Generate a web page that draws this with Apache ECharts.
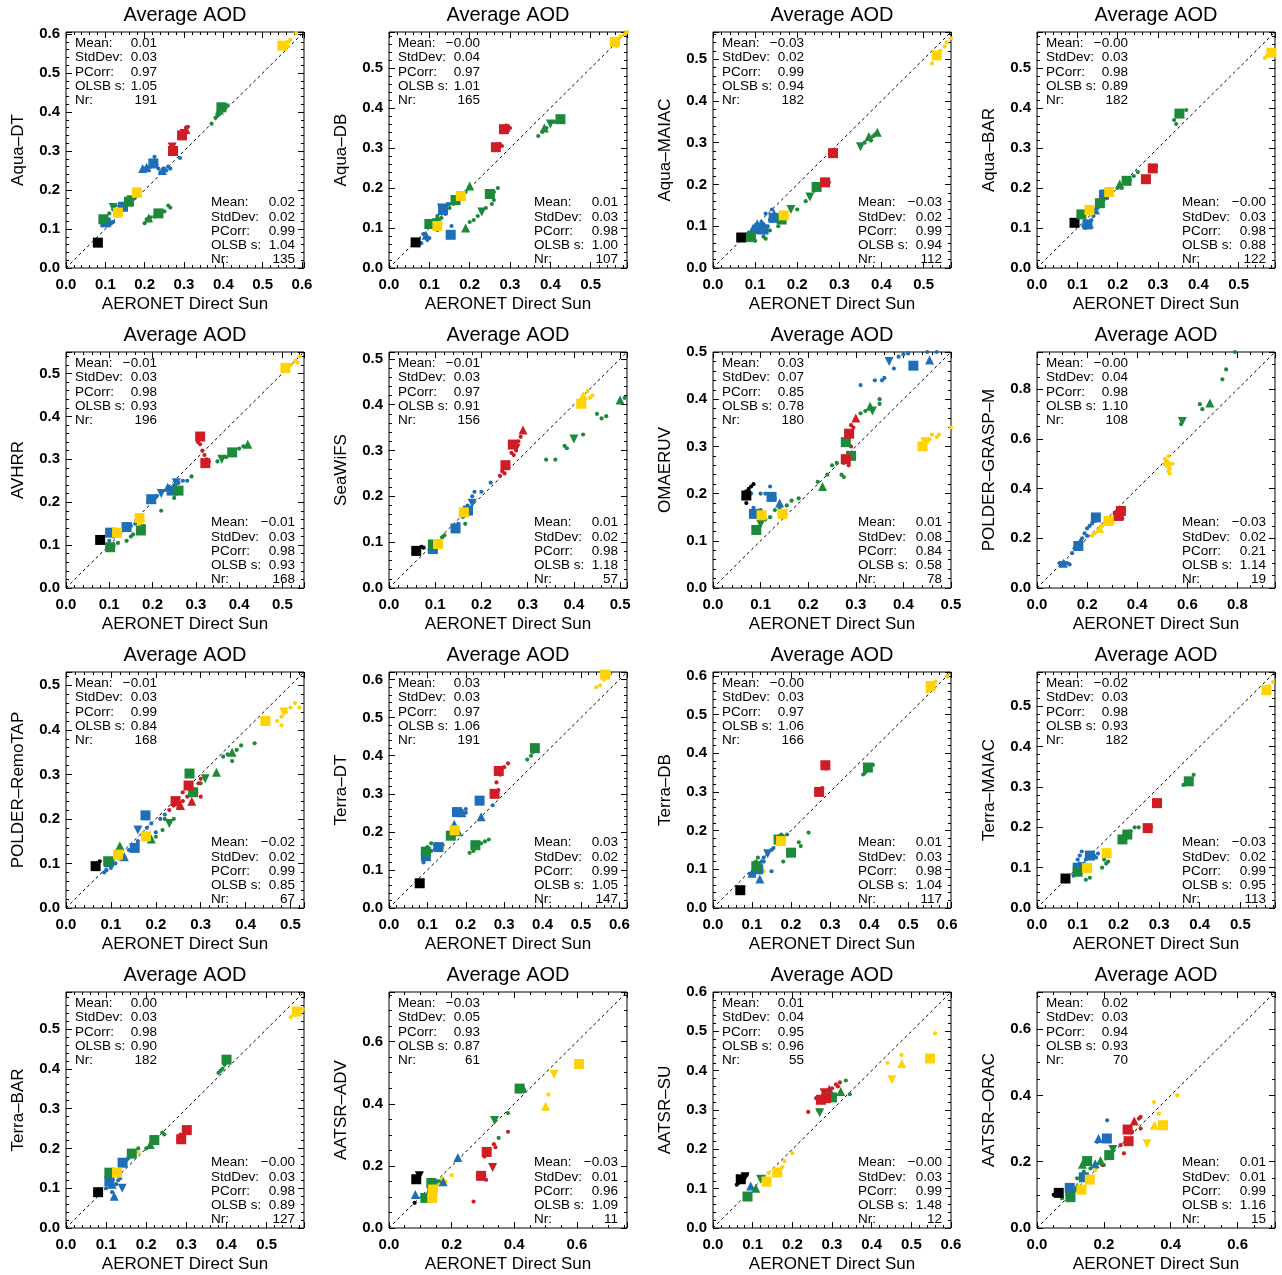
<!DOCTYPE html>
<html><head><meta charset="utf-8">
<script src="https://cdn.jsdelivr.net/npm/echarts@6/dist/echarts.min.js"></script>
<style>html,body{margin:0;padding:0;background:#fff}#c{width:1282px;height:1275px}</style>
</head><body><div id="c"></div>
<script>
// ---------- DATA ----------
const chartTitle = 'Average AOD';
const xTitle = 'AERONET Direct Sun';
const panelNames = ['Aqua–DT','Aqua–DB','Aqua–MAIAC','Aqua–BAR','AVHRR','SeaWiFS','OMAERUV','POLDER–GRASP–M',
  'POLDER–RemoTAP','Terra–DT','Terra–DB','Terra–MAIAC','Terra–BAR','AATSR–ADV','AATSR–SU','AATSR–ORAC'];
const axisMax = [0.605,0.59,0.565,0.59, 0.55,0.515,0.5,0.95, 0.53,0.62,0.61,0.585, 0.593,0.76,0.6,0.712];
const tickStep = [0.1,0.1,0.1,0.1, 0.1,0.1,0.1,0.2, 0.1,0.1,0.1,0.1, 0.1,0.2,0.1,0.2];
const statLabels = ['Mean:','StdDev:','PCorr:','OLSB s:','Nr:'];
const statsTop = [
 ['0.01','0.03','0.97','1.05','191'],['−0.00','0.04','0.97','1.01','165'],['−0.03','0.02','0.99','0.94','182'],['−0.00','0.03','0.98','0.89','182'],
 ['−0.01','0.03','0.98','0.93','196'],['−0.01','0.03','0.97','0.91','156'],['0.03','0.07','0.85','0.78','180'],['−0.00','0.04','0.98','1.10','108'],
 ['−0.01','0.03','0.99','0.84','168'],['0.03','0.03','0.97','1.06','191'],['−0.00','0.03','0.97','1.06','166'],['−0.02','0.03','0.98','0.93','182'],
 ['0.00','0.03','0.98','0.90','182'],['−0.03','0.05','0.93','0.87','61'],['0.01','0.04','0.95','0.96','55'],['0.02','0.03','0.94','0.93','70']];
const statsBottom = [
 ['0.02','0.02','0.99','1.04','135'],['0.01','0.03','0.98','1.00','107'],['−0.03','0.02','0.99','0.94','112'],['−0.00','0.03','0.98','0.88','122'],
 ['−0.01','0.03','0.98','0.93','168'],['0.01','0.02','0.98','1.18','57'],['0.01','0.08','0.84','0.58','78'],['−0.03','0.02','0.21','1.14','19'],
 ['−0.02','0.02','0.99','0.85','67'],['0.03','0.02','0.99','1.05','147'],['0.01','0.03','0.98','1.04','117'],['−0.03','0.02','0.99','0.95','113'],
 ['−0.00','0.03','0.98','0.89','127'],['−0.03','0.01','0.96','1.09','11'],['−0.00','0.03','0.99','1.48','12'],['0.01','0.01','0.99','1.16','15']];

// points: [aeronet, satellite, colour group, symbol group]
const aquaDT = [[0.081,0.065,'k','s'],
 [0.10,0.117,'b','s'],[0.145,0.157,'b','s'],[0.222,0.268,'b','s'],
 [0.095,0.12,'b','o'],[0.105,0.11,'b','o'],[0.11,0.122,'b','o'],[0.115,0.115,'b','o'],[0.1,0.125,'b','o'],[0.12,0.118,'b','o'],[0.21,0.25,'b','o'],[0.23,0.265,'b','o'],[0.225,0.285,'b','o'],[0.24,0.245,'b','o'],[0.25,0.255,'b','o'],[0.26,0.26,'b','o'],[0.255,0.25,'b','o'],[0.29,0.282,'b','o'],[0.215,0.26,'b','o'],[0.2,0.255,'b','o'],[0.235,0.255,'b','o'],[0.265,0.255,'b','o'],
 [0.195,0.255,'b','u'],[0.205,0.258,'b','u'],[0.245,0.25,'b','u'],[0.14,0.15,'b','d'],[0.105,0.118,'b','u'],
 [0.095,0.125,'g','s'],[0.16,0.17,'g','s'],[0.235,0.14,'g','s'],[0.395,0.412,'g','s'],
 [0.12,0.15,'g','o'],[0.125,0.16,'g','o'],[0.11,0.14,'g','o'],[0.15,0.165,'g','o'],[0.175,0.18,'g','o'],[0.2,0.115,'g','o'],[0.205,0.125,'g','o'],[0.215,0.13,'g','o'],[0.225,0.132,'g','o'],[0.25,0.145,'g','o'],[0.26,0.16,'g','o'],[0.265,0.155,'g','o'],[0.37,0.37,'g','o'],[0.38,0.385,'g','o'],[0.385,0.39,'g','o'],[0.4,0.41,'g','o'],[0.405,0.415,'g','o'],[0.39,0.395,'g','o'],[0.395,0.405,'g','o'],
 [0.21,0.128,'g','u'],[0.39,0.405,'g','u'],[0.12,0.155,'g','d'],[0.405,0.41,'g','d'],[0.165,0.175,'g','d'],
 [0.272,0.30,'r','s'],[0.295,0.34,'r','s'],
 [0.28,0.305,'r','o'],[0.275,0.295,'r','o'],[0.3,0.35,'r','o'],[0.305,0.36,'r','o'],[0.31,0.362,'r','o'],[0.29,0.335,'r','o'],
 [0.305,0.355,'r','u'],[0.27,0.31,'r','d'],[0.3,0.345,'r','d'],
 [0.132,0.142,'y','s'],[0.18,0.193,'y','s'],[0.55,0.57,'y','s'],
 [0.555,0.575,'y','o'],[0.565,0.58,'y','o'],[0.545,0.565,'y','o'],[0.585,0.603,'y','o'],[0.57,0.585,'y','o'],
 [0.18,0.195,'y','d'],[0.56,0.575,'y','u']];
const aquaDB = [[0.066,0.064,'k','s'],
 [0.134,0.145,'b','s'],[0.153,0.083,'b','s'],
 [0.09,0.08,'b','o'],[0.095,0.07,'b','o'],[0.085,0.085,'b','o'],[0.1,0.075,'b','o'],[0.08,0.062,'b','o'],[0.14,0.155,'b','o'],[0.145,0.16,'b','o'],[0.15,0.16,'b','o'],[0.12,0.095,'b','o'],[0.125,0.1,'b','o'],[0.155,0.105,'b','o'],
 [0.092,0.082,'b','u'],[0.13,0.15,'b','d'],
 [0.10,0.11,'g','s'],[0.165,0.17,'g','s'],[0.25,0.185,'g','s'],[0.425,0.372,'g','s'],
 [0.11,0.12,'g','o'],[0.12,0.13,'g','o'],[0.13,0.125,'g','o'],[0.14,0.135,'g','o'],[0.15,0.15,'g','o'],[0.16,0.16,'g','o'],[0.18,0.185,'g','o'],[0.19,0.19,'g','o'],[0.2,0.115,'g','o'],[0.21,0.12,'g','o'],[0.22,0.13,'g','o'],[0.24,0.15,'g','o'],[0.255,0.16,'g','o'],[0.26,0.17,'g','o'],[0.26,0.19,'g','o'],[0.27,0.2,'g','o'],[0.37,0.33,'g','o'],[0.38,0.34,'g','o'],[0.39,0.35,'g','o'],[0.41,0.365,'g','o'],
 [0.2,0.205,'g','u'],[0.19,0.1,'g','u'],[0.385,0.35,'g','u'],[0.23,0.14,'g','d'],[0.4,0.36,'g','d'],[0.12,0.125,'g','u'],
 [0.265,0.302,'r','s'],[0.285,0.347,'r','s'],
 [0.275,0.31,'r','o'],[0.28,0.305,'r','o'],[0.295,0.355,'r','o'],[0.3,0.35,'r','o'],[0.29,0.352,'r','u'],
 [0.12,0.105,'y','s'],[0.178,0.18,'y','s'],[0.56,0.565,'y','s'],
 [0.57,0.575,'y','o'],[0.575,0.58,'y','o'],[0.585,0.585,'y','o'],[0.565,0.555,'y','o'],[0.59,0.59,'y','o']];
const aquaMAIAC = [[0.067,0.073,'k','s'],
 [0.11,0.096,'b','s'],[0.144,0.12,'b','s'],[0.12,0.092,'b','s'],
 [0.095,0.09,'b','o'],[0.1,0.1,'b','o'],[0.115,0.11,'b','o'],[0.13,0.1,'b','o'],[0.135,0.115,'b','o'],[0.14,0.14,'b','o'],[0.15,0.125,'b','o'],[0.125,0.13,'b','o'],[0.105,0.085,'b','o'],[0.085,0.085,'b','o'],[0.12,0.105,'b','o'],
 [0.105,0.106,'b','u'],[0.145,0.13,'b','u'],[0.095,0.095,'b','u'],
 [0.09,0.074,'g','s'],[0.163,0.116,'g','s'],[0.246,0.194,'g','s'],
 [0.1,0.065,'g','o'],[0.12,0.075,'g','o'],[0.125,0.07,'g','o'],[0.135,0.09,'g','o'],[0.155,0.1,'g','o'],[0.2,0.14,'g','o'],[0.22,0.16,'g','o'],[0.24,0.185,'g','o'],[0.36,0.3,'g','o'],[0.37,0.31,'g','o'],[0.38,0.315,'g','o'],[0.385,0.32,'g','o'],[0.375,0.305,'g','o'],
 [0.185,0.14,'g','d'],[0.23,0.17,'g','d'],[0.35,0.29,'g','d'],[0.39,0.325,'g','u'],[0.37,0.315,'g','u'],
 [0.285,0.275,'r','s'],[0.266,0.205,'r','s'],
 [0.29,0.28,'r','o'],[0.27,0.21,'r','o'],[0.275,0.205,'r','o'],
 [0.168,0.126,'y','s'],[0.531,0.509,'y','s'],
 [0.54,0.52,'y','o'],[0.55,0.53,'y','o'],[0.555,0.54,'y','o'],[0.52,0.49,'y','o'],[0.565,0.55,'y','o']];
const aquaBAR = [[0.093,0.113,'k','s'],
 [0.125,0.109,'b','s'],[0.166,0.183,'b','s'],
 [0.12,0.1,'b','o'],[0.13,0.105,'b','o'],[0.135,0.12,'b','o'],[0.14,0.13,'b','o'],[0.15,0.15,'b','o'],[0.155,0.16,'b','o'],[0.16,0.17,'b','o'],[0.17,0.18,'b','o'],[0.115,0.105,'b','o'],[0.125,0.115,'b','o'],
 [0.145,0.145,'b','u'],[0.17,0.185,'b','d'],[0.13,0.11,'b','u'],
 [0.11,0.134,'g','s'],[0.156,0.162,'g','s'],[0.222,0.218,'g','s'],[0.353,0.386,'g','s'],
 [0.12,0.14,'g','o'],[0.2,0.2,'g','o'],[0.21,0.2,'g','o'],[0.23,0.22,'g','o'],[0.24,0.23,'g','o'],[0.25,0.24,'g','o'],[0.34,0.37,'g','o'],[0.345,0.36,'g','o'],[0.36,0.39,'g','o'],[0.37,0.395,'g','o'],
 [0.205,0.21,'g','u'],
 [0.27,0.222,'r','s'],[0.287,0.249,'r','s'],
 [0.29,0.25,'r','o'],[0.295,0.255,'r','o'],[0.265,0.22,'r','o'],
 [0.179,0.19,'y','s'],[0.13,0.145,'y','s'],[0.581,0.538,'y','s'],
 [0.565,0.525,'y','o'],[0.57,0.53,'y','o'],[0.585,0.545,'y','o']];
const avhrr = [[0.079,0.112,'k','s'],
 [0.102,0.129,'b','s'],[0.14,0.142,'b','s'],[0.197,0.207,'b','s'],[0.244,0.227,'b','s'],
 [0.1,0.11,'b','o'],[0.105,0.1,'b','o'],[0.11,0.12,'b','o'],[0.15,0.145,'b','o'],[0.16,0.15,'b','o'],[0.19,0.2,'b','o'],[0.2,0.21,'b','o'],[0.21,0.215,'b','o'],[0.25,0.24,'b','o'],[0.26,0.245,'b','o'],[0.27,0.25,'b','o'],[0.28,0.25,'b','o'],
 [0.22,0.22,'b','d'],[0.235,0.235,'b','u'],[0.255,0.245,'b','d'],
 [0.102,0.095,'g','s'],[0.173,0.134,'g','s'],[0.26,0.227,'g','s'],[0.384,0.316,'g','s'],
 [0.11,0.1,'g','o'],[0.12,0.105,'g','o'],[0.14,0.11,'g','o'],[0.15,0.12,'g','o'],[0.155,0.125,'g','o'],[0.18,0.145,'g','o'],[0.22,0.18,'g','o'],[0.25,0.21,'g','o'],[0.255,0.22,'g','o'],[0.29,0.26,'g','o'],[0.35,0.295,'g','o'],[0.37,0.305,'g','o'],[0.4,0.325,'g','o'],[0.41,0.33,'g','o'],
 [0.36,0.3,'g','d'],[0.42,0.335,'g','u'],[0.175,0.14,'g','u'],
 [0.31,0.353,'r','s'],[0.322,0.291,'r','s'],
 [0.31,0.335,'r','o'],[0.315,0.32,'r','o'],[0.32,0.31,'r','o'],[0.325,0.3,'r','o'],[0.33,0.295,'r','o'],[0.305,0.34,'r','o'],
 [0.118,0.129,'y','s'],[0.17,0.163,'y','s'],[0.507,0.513,'y','s'],
 [0.52,0.52,'y','o'],[0.53,0.53,'y','o'],[0.54,0.54,'y','o'],[0.535,0.525,'y','o'],[0.17,0.15,'y','o'],[0.12,0.125,'y','o']];
const seaWiFS = [[0.059,0.081,'k','s'],
 [0.065,0.085,'k','o'],[0.07,0.09,'k','o'],[0.075,0.088,'k','o'],[0.06,0.075,'k','o'],
 [0.095,0.085,'b','s'],[0.144,0.13,'b','s'],[0.171,0.169,'b','s'],
 [0.1,0.09,'b','o'],[0.105,0.095,'b','o'],[0.11,0.1,'b','o'],[0.14,0.135,'b','o'],[0.15,0.14,'b','o'],[0.16,0.155,'b','o'],[0.17,0.18,'b','o'],[0.18,0.2,'b','o'],[0.185,0.21,'b','o'],[0.2,0.21,'b','o'],[0.22,0.23,'b','o'],
 [0.18,0.185,'b','d'],
 [0.095,0.095,'g','s'],
 [0.1,0.1,'g','o'],[0.115,0.11,'g','o'],[0.12,0.115,'g','o'],[0.165,0.14,'g','o'],[0.34,0.28,'g','o'],[0.36,0.28,'g','o'],[0.38,0.31,'g','o'],[0.385,0.305,'g','o'],[0.42,0.335,'g','o'],[0.45,0.38,'g','o'],[0.46,0.37,'g','o'],[0.47,0.375,'g','o'],[0.51,0.415,'g','o'],
 [0.4,0.325,'g','d'],[0.5,0.41,'g','u'],
 [0.252,0.268,'r','s'],[0.268,0.313,'r','s'],
 [0.24,0.245,'r','o'],[0.245,0.255,'r','o'],[0.25,0.25,'r','o'],[0.27,0.29,'r','o'],[0.275,0.3,'r','o'],[0.28,0.32,'r','o'],[0.285,0.33,'r','o'],[0.265,0.295,'r','o'],
 [0.29,0.345,'r','u'],[0.275,0.305,'r','d'],
 [0.106,0.096,'y','s'],[0.162,0.165,'y','s'],[0.416,0.402,'y','s'],
 [0.43,0.43,'y','o'],[0.435,0.415,'y','o'],[0.44,0.42,'y','o'],[0.155,0.16,'y','o'],
 [0.42,0.42,'y','u']];
const omaeruv = [[0.07,0.196,'k','s'],
 [0.065,0.19,'k','o'],[0.07,0.205,'k','o'],[0.075,0.21,'k','o'],[0.08,0.215,'k','o'],[0.085,0.22,'k','o'],[0.07,0.18,'k','o'],
 [0.086,0.157,'b','s'],[0.123,0.193,'b','s'],[0.421,0.471,'b','s'],
 [0.08,0.2,'b','o'],[0.1,0.2,'b','o'],[0.11,0.2,'b','o'],[0.12,0.215,'b','o'],[0.13,0.19,'b','o'],[0.085,0.17,'b','o'],[0.1,0.165,'b','o'],[0.31,0.43,'b','o'],[0.34,0.44,'b','o'],[0.355,0.44,'b','o'],[0.36,0.445,'b','o'],[0.38,0.465,'b','o'],[0.39,0.49,'b','o'],[0.4,0.495,'b','o'],[0.41,0.497,'b','o'],[0.45,0.5,'b','o'],[0.47,0.5,'b','o'],
 [0.14,0.18,'b','u'],[0.37,0.48,'b','d'],[0.455,0.483,'b','u'],
 [0.091,0.123,'g','s'],[0.279,0.309,'g','s'],[0.29,0.28,'g','s'],
 [0.1,0.14,'g','o'],[0.11,0.145,'g','o'],[0.12,0.15,'g','o'],[0.13,0.165,'g','o'],[0.14,0.17,'g','o'],[0.155,0.175,'g','o'],[0.165,0.185,'g','o'],[0.18,0.19,'g','o'],[0.22,0.225,'g','o'],[0.24,0.24,'g','o'],[0.25,0.26,'g','o'],[0.26,0.265,'g','o'],[0.27,0.24,'g','o'],[0.275,0.235,'g','o'],[0.28,0.275,'g','o'],[0.31,0.37,'g','o'],[0.32,0.375,'g','o'],[0.35,0.39,'g','o'],[0.35,0.4,'g','o'],
 [0.23,0.215,'g','u'],[0.33,0.385,'g','u'],[0.335,0.375,'g','d'],[0.1,0.135,'g','d'],
 [0.286,0.327,'r','s'],[0.279,0.273,'r','s'],
 [0.28,0.33,'r','o'],[0.29,0.345,'r','o'],[0.295,0.34,'r','o'],[0.275,0.265,'r','o'],[0.285,0.26,'r','o'],[0.29,0.3,'r','o'],
 [0.3,0.36,'r','u'],
 [0.102,0.154,'y','s'],[0.146,0.157,'y','s'],[0.44,0.30,'y','s'],
 [0.45,0.31,'y','o'],[0.455,0.315,'y','o'],[0.46,0.325,'y','o'],[0.47,0.32,'y','o'],[0.475,0.325,'y','o'],[0.5,0.34,'y','o'],
 [0.445,0.31,'y','d']];
const polderGRASP = [
 [0.235,0.284,'b','s'],[0.165,0.169,'b','s'],
 [0.09,0.1,'b','o'],[0.1,0.1,'b','o'],[0.11,0.1,'b','o'],[0.12,0.1,'b','o'],[0.13,0.095,'b','o'],[0.14,0.14,'b','o'],[0.15,0.16,'b','o'],[0.17,0.18,'b','o'],[0.18,0.2,'b','o'],[0.19,0.22,'b','o'],[0.2,0.24,'b','o'],[0.21,0.25,'b','o'],[0.22,0.26,'b','o'],[0.23,0.27,'b','o'],[0.2,0.21,'b','o'],[0.16,0.175,'b','o'],[0.175,0.19,'b','o'],
 [0.105,0.1,'b','u'],[0.17,0.17,'b','d'],
 [0.575,0.66,'g','o'],[0.65,0.74,'g','o'],[0.66,0.72,'g','o'],[0.74,0.84,'g','o'],[0.755,0.88,'g','o'],[0.79,0.95,'g','o'],
 [0.58,0.67,'g','d'],[0.69,0.745,'g','u'],
 [0.31,0.3,'r','o'],[0.32,0.31,'r','o'],[0.33,0.32,'r','o'],[0.34,0.31,'r','o'],[0.335,0.295,'r','o'],[0.315,0.28,'r','o'],[0.34,0.28,'r','o'],
 [0.33,0.3,'r','u'],[0.32,0.29,'r','d'],[0.325,0.29,'r','s'],[0.335,0.31,'r','s'],
 [0.22,0.21,'y','o'],[0.23,0.22,'y','o'],[0.25,0.23,'y','o'],[0.26,0.25,'y','o'],[0.27,0.26,'y','o'],[0.28,0.28,'y','o'],[0.29,0.28,'y','o'],[0.3,0.265,'y','o'],
 [0.51,0.5,'y','o'],[0.52,0.49,'y','o'],[0.53,0.48,'y','o'],[0.52,0.51,'y','o'],[0.525,0.53,'y','o'],[0.53,0.46,'y','o'],[0.54,0.5,'y','o'],[0.51,0.52,'y','o'],[0.525,0.47,'y','o'],
 [0.25,0.24,'y','u'],[0.525,0.49,'y','d'],
 [0.285,0.27,'y','s']];
const polderRemoTAP = [[0.066,0.094,'k','s'],
 [0.07,0.1,'k','o'],[0.075,0.105,'k','o'],[0.065,0.09,'k','o'],
 [0.096,0.103,'b','s'],[0.153,0.135,'b','s'],[0.177,0.208,'b','s'],
 [0.085,0.08,'b','o'],[0.09,0.085,'b','o'],[0.1,0.09,'b','o'],[0.11,0.1,'b','o'],[0.12,0.11,'b','o'],[0.14,0.13,'b','o'],[0.15,0.14,'b','o'],[0.16,0.15,'b','o'],[0.17,0.165,'b','o'],[0.18,0.18,'b','o'],[0.19,0.19,'b','o'],[0.2,0.17,'b','o'],[0.21,0.2,'b','o'],[0.22,0.21,'b','o'],
 [0.16,0.175,'b','d'],[0.13,0.115,'b','u'],
 [0.094,0.105,'g','s'],[0.275,0.302,'g','s'],[0.283,0.26,'g','s'],
 [0.11,0.12,'g','o'],[0.115,0.13,'g','o'],[0.2,0.16,'g','o'],[0.215,0.175,'g','o'],[0.24,0.2,'g','o'],[0.22,0.2,'g','o'],[0.25,0.24,'g','o'],[0.35,0.34,'g','o'],[0.36,0.345,'g','o'],[0.38,0.355,'g','o'],[0.39,0.365,'g','o'],[0.42,0.37,'g','o'],[0.37,0.33,'g','o'],[0.3,0.28,'g','o'],
 [0.12,0.14,'g','u'],[0.23,0.19,'g','d'],[0.31,0.29,'g','d'],[0.335,0.305,'g','u'],[0.37,0.35,'g','u'],[0.19,0.155,'g','u'],
 [0.244,0.24,'r','s'],[0.273,0.275,'r','s'],
 [0.23,0.22,'r','o'],[0.24,0.23,'r','o'],[0.25,0.225,'r','o'],[0.26,0.24,'r','o'],[0.27,0.25,'r','o'],[0.29,0.26,'r','o'],[0.295,0.28,'r','o'],[0.3,0.25,'r','o'],[0.3,0.29,'r','o'],[0.26,0.26,'r','o'],
 [0.28,0.24,'r','u'],[0.255,0.23,'r','u'],
 [0.116,0.12,'y','s'],[0.178,0.161,'y','s'],[0.444,0.42,'y','s'],
 [0.47,0.42,'y','o'],[0.48,0.43,'y','o'],[0.49,0.44,'y','o'],[0.5,0.45,'y','o'],[0.51,0.46,'y','o'],[0.52,0.45,'y','o'],[0.48,0.41,'y','o'],[0.12,0.11,'y','o'],
 [0.485,0.44,'y','d']];
const terraDT = [[0.08,0.065,'k','s'],
 [0.096,0.136,'b','s'],[0.129,0.16,'b','s'],[0.177,0.252,'b','s'],[0.236,0.282,'b','s'],
 [0.09,0.12,'b','o'],[0.1,0.14,'b','o'],[0.11,0.15,'b','o'],[0.12,0.155,'b','o'],[0.14,0.165,'b','o'],[0.18,0.25,'b','o'],[0.19,0.255,'b','o'],[0.2,0.26,'b','o'],[0.2,0.25,'b','o'],[0.27,0.27,'b','o'],[0.28,0.3,'b','o'],
 [0.17,0.22,'b','u'],[0.24,0.24,'b','u'],[0.19,0.25,'b','u'],
 [0.096,0.148,'g','s'],[0.161,0.19,'g','s'],[0.225,0.165,'g','s'],[0.38,0.42,'g','s'],
 [0.1,0.16,'g','o'],[0.11,0.17,'g','o'],[0.12,0.165,'g','o'],[0.21,0.145,'g','o'],[0.22,0.15,'g','o'],[0.23,0.16,'g','o'],[0.24,0.17,'g','o'],[0.25,0.175,'g','o'],[0.26,0.18,'g','o'],[0.36,0.39,'g','o'],[0.37,0.4,'g','o'],[0.375,0.41,'g','o'],[0.385,0.425,'g','o'],
 [0.18,0.2,'g','u'],
 [0.286,0.36,'r','s'],[0.275,0.30,'r','s'],
 [0.3,0.37,'r','o'],[0.31,0.38,'r','o'],[0.29,0.35,'r','o'],[0.28,0.33,'r','o'],[0.285,0.31,'r','o'],
 [0.171,0.204,'y','s'],[0.563,0.613,'y','s'],
 [0.54,0.58,'y','o'],[0.55,0.585,'y','o'],[0.56,0.6,'y','o'],[0.57,0.61,'y','o'],[0.575,0.615,'y','o'],[0.14,0.16,'y','o']];
const terraDB = [[0.07,0.046,'k','s'],
 [0.116,0.1,'b','s'],
 [0.1,0.09,'b','o'],[0.105,0.085,'b','o'],[0.11,0.095,'b','o'],[0.12,0.11,'b','o'],[0.125,0.12,'b','o'],[0.13,0.13,'b','o'],[0.14,0.14,'b','o'],[0.15,0.15,'b','o'],[0.155,0.155,'b','o'],[0.13,0.12,'b','o'],[0.15,0.095,'b','o'],[0.095,0.088,'b','o'],
 [0.12,0.075,'b','u'],[0.14,0.14,'b','d'],[0.1,0.09,'b','u'],
 [0.111,0.108,'g','s'],[0.168,0.177,'g','s'],[0.2,0.143,'g','s'],[0.397,0.363,'g','s'],
 [0.11,0.12,'g','o'],[0.115,0.13,'g','o'],[0.17,0.185,'g','o'],[0.175,0.19,'g','o'],[0.18,0.185,'g','o'],[0.19,0.19,'g','o'],[0.18,0.12,'g','o'],[0.22,0.17,'g','o'],[0.225,0.16,'g','o'],[0.245,0.195,'g','o'],[0.385,0.345,'g','o'],[0.39,0.35,'g','o'],[0.41,0.37,'g','o'],[0.4,0.36,'g','o'],
 [0.288,0.369,'r','s'],[0.272,0.3,'r','s'],
 [0.28,0.31,'r','o'],[0.29,0.36,'r','o'],
 [0.174,0.173,'y','s'],[0.558,0.574,'y','s'],
 [0.55,0.56,'y','o'],[0.56,0.58,'y','o'],[0.57,0.585,'y','o'],[0.6,0.6,'y','o'],[0.125,0.1,'y','o'],[0.13,0.095,'y','o']];
const terraMAIAC = [[0.07,0.073,'k','s'],
 [0.1,0.1,'b','s'],[0.13,0.13,'b','s'],
 [0.09,0.08,'b','o'],[0.1,0.12,'b','o'],[0.105,0.13,'b','o'],[0.11,0.14,'b','o'],[0.12,0.12,'b','o'],[0.125,0.13,'b','o'],[0.13,0.125,'b','o'],[0.14,0.13,'b','o'],[0.15,0.135,'b','o'],[0.115,0.11,'b','o'],[0.11,0.09,'b','o'],[0.105,0.11,'b','o'],[0.145,0.125,'b','o'],
 [0.1,0.09,'g','s'],[0.222,0.182,'g','s'],[0.21,0.17,'g','s'],[0.373,0.314,'g','s'],
 [0.12,0.07,'g','o'],[0.13,0.075,'g','o'],[0.16,0.1,'g','o'],[0.17,0.11,'g','o'],[0.175,0.115,'g','o'],[0.165,0.12,'g','o'],[0.23,0.19,'g','o'],[0.24,0.2,'g','o'],[0.25,0.2,'g','o'],[0.36,0.305,'g','o'],[0.37,0.31,'g','o'],[0.38,0.32,'g','o'],[0.385,0.33,'g','o'],
 [0.295,0.26,'r','s'],[0.272,0.198,'r','s'],
 [0.28,0.2,'r','o'],
 [0.171,0.136,'y','s'],[0.123,0.099,'y','s'],[0.564,0.54,'y','s'],
 [0.57,0.55,'y','o'],[0.58,0.56,'y','o']];
const terraBAR = [[0.08,0.09,'k','s'],
 [0.108,0.118,'b','s'],[0.141,0.164,'b','s'],
 [0.1,0.1,'b','o'],[0.11,0.105,'b','o'],[0.115,0.09,'b','o'],[0.125,0.11,'b','o'],[0.13,0.12,'b','o'],[0.135,0.125,'b','o'],[0.15,0.17,'b','o'],[0.155,0.175,'b','o'],[0.16,0.18,'b','o'],
 [0.12,0.08,'b','u'],[0.14,0.1,'b','d'],[0.115,0.11,'b','u'],
 [0.108,0.139,'g','s'],[0.164,0.187,'g','s'],[0.22,0.221,'g','s'],[0.4,0.423,'g','s'],
 [0.17,0.19,'g','o'],[0.18,0.2,'g','o'],[0.2,0.2,'g','o'],[0.22,0.215,'g','o'],[0.24,0.24,'g','o'],[0.245,0.235,'g','o'],[0.38,0.39,'g','o'],[0.385,0.395,'g','o'],[0.39,0.4,'g','o'],[0.395,0.41,'g','o'],
 [0.21,0.21,'g','u'],
 [0.287,0.223,'r','s'],[0.301,0.246,'r','s'],
 [0.28,0.22,'r','o'],[0.29,0.23,'r','o'],[0.295,0.24,'r','o'],[0.305,0.25,'r','o'],[0.285,0.235,'r','o'],
 [0.127,0.139,'y','s'],[0.575,0.544,'y','s'],
 [0.56,0.53,'y','o'],[0.57,0.535,'y','o'],[0.58,0.54,'y','o'],[0.59,0.55,'y','o'],[0.18,0.19,'y','o']];
const aatsrADV = [[0.087,0.157,'k','s'],[0.082,0.081,'k','o'],[0.097,0.168,'k','d'],
 [0.138,0.14,'b','s'],
 [0.084,0.108,'b','u'],[0.22,0.227,'b','u'],[0.173,0.149,'b','u'],
 [0.116,0.097,'g','s'],[0.135,0.145,'g','s'],[0.417,0.449,'g','s'],
 [0.12,0.09,'g','o'],[0.13,0.13,'g','o'],[0.14,0.15,'g','o'],[0.15,0.145,'g','o'],[0.16,0.15,'g','o'],[0.35,0.29,'g','o'],[0.38,0.37,'g','o'],
 [0.428,0.451,'g','u'],[0.13,0.12,'g','u'],[0.337,0.346,'g','d'],
 [0.312,0.245,'r','s'],[0.294,0.168,'r','s'],
 [0.305,0.23,'r','o'],[0.3,0.16,'r','o'],[0.31,0.155,'r','o'],[0.335,0.27,'r','o'],[0.34,0.26,'r','o'],[0.38,0.31,'r','o'],[0.27,0.085,'r','o'],
 [0.331,0.195,'r','d'],
 [0.138,0.097,'y','s'],[0.14,0.124,'y','s'],[0.607,0.528,'y','s'],
 [0.509,0.43,'y','o'],[0.2,0.17,'y','o'],[0.18,0.15,'y','o'],[0.16,0.14,'y','o'],[0.17,0.16,'y','o'],
 [0.527,0.495,'y','d'],[0.5,0.392,'y','u']];
const aatsrSU = [[0.06,0.11,'k','o'],[0.065,0.115,'k','o'],[0.075,0.125,'k','o'],[0.085,0.135,'k','o'],
 [0.07,0.124,'k','s'],[0.081,0.13,'k','d'],
 [0.095,0.107,'b','u'],
 [0.087,0.08,'g','s'],[0.3,0.332,'g','s'],
 [0.335,0.375,'g','o'],[0.345,0.34,'g','o'],
 [0.108,0.101,'g','u'],[0.12,0.124,'g','d'],[0.269,0.293,'g','d'],[0.322,0.347,'g','u'],
 [0.272,0.326,'r','s'],[0.285,0.33,'r','s'],
 [0.24,0.295,'r','o'],[0.265,0.3,'r','o'],[0.3,0.355,'r','o'],[0.31,0.365,'r','o'],[0.32,0.37,'r','o'],[0.315,0.36,'r','o'],[0.26,0.33,'r','o'],
 [0.28,0.344,'r','d'],[0.293,0.353,'r','u'],
 [0.135,0.118,'y','s'],[0.162,0.141,'y','s'],[0.547,0.431,'y','s'],
 [0.44,0.42,'y','o'],[0.475,0.44,'y','o'],[0.56,0.495,'y','o'],[0.2,0.19,'y','o'],[0.18,0.17,'y','o'],[0.175,0.155,'y','o'],[0.14,0.14,'y','o'],[0.13,0.12,'y','o'],
 [0.451,0.377,'y','d'],[0.476,0.418,'y','u']];
const aatsrORAC = [[0.065,0.106,'k','s'],
 [0.05,0.1,'k','o'],[0.06,0.105,'k','o'],[0.07,0.11,'k','o'],[0.055,0.1,'k','o'],
 [0.098,0.121,'b','s'],[0.14,0.153,'b','s'],[0.209,0.27,'b','s'],
 [0.18,0.26,'b','o'],[0.21,0.325,'b','o'],[0.11,0.11,'b','o'],
 [0.184,0.27,'b','u'],[0.174,0.194,'b','u'],
 [0.1,0.093,'g','s'],[0.15,0.202,'g','s'],[0.216,0.22,'g','s'],
 [0.075,0.09,'g','o'],[0.12,0.15,'g','o'],[0.14,0.17,'g','o'],[0.16,0.18,'g','o'],[0.2,0.19,'g','o'],[0.09,0.1,'g','o'],
 [0.12,0.124,'g','u'],[0.136,0.192,'g','u'],[0.19,0.204,'g','u'],[0.227,0.237,'g','d'],
 [0.271,0.297,'r','s'],[0.274,0.262,'r','s'],
 [0.25,0.25,'r','o'],[0.26,0.225,'r','o'],[0.285,0.29,'r','o'],[0.305,0.33,'r','o'],[0.31,0.335,'r','o'],[0.31,0.3,'r','o'],[0.195,0.19,'r','o'],
 [0.291,0.323,'r','u'],
 [0.133,0.116,'y','s'],[0.158,0.146,'y','s'],[0.377,0.31,'y','s'],
 [0.175,0.175,'y','o'],[0.35,0.38,'y','o'],[0.365,0.345,'y','o'],[0.42,0.4,'y','o'],[0.12,0.12,'y','o'],
 [0.351,0.31,'y','u'],[0.329,0.254,'y','d']];

const panels = [aquaDT,aquaDB,aquaMAIAC,aquaBAR, avhrr,seaWiFS,omaeruv,polderGRASP,
  polderRemoTAP,terraDT,terraDB,terraMAIAC, terraBAR,aatsrADV,aatsrSU,aatsrORAC];

// ---------- STYLE / LAYOUT ----------
const COLORS = {k:'#000000', b:'#1f6fb8', g:'#1c8a3a', r:'#d01c24', y:'#ffd200'};
const SYMS = [
  {key:'o', symbol:'circle', size:4.2, rot:0},
  {key:'u', symbol:'triangle', size:9, rot:0},
  {key:'d', symbol:'triangle', size:9, rot:180},
  {key:'s', symbol:'rect', size:10, rot:0}];
const LEFTS = [66, 389, 713, 1037], TOPS = [32, 352, 672, 992], W = 238, H = 236;
const FONT = '"Liberation Sans", Arial, Helvetica, sans-serif';

const grid = [], xAxis = [], yAxis = [], series = [], graphic = [];

panels.forEach((pts, i) => {
  const c = i % 4, r = Math.floor(i / 4);
  const L = LEFTS[c], T = TOPS[r];
  const M = axisMax[i], I = tickStep[i], mI = I > 0.15 ? 0.05 : 0.02;
  grid.push({left: L, top: T, width: W, height: H, show: true, borderColor: '#000', borderWidth: 1,
    backgroundColor: 'rgba(0,0,0,0)', containLabel: false, outerBoundsMode: 'none'});
  const fmt = v => (Math.abs(v / I - Math.round(v / I)) < 1e-6 ? v.toFixed(1) : '');
  const mk = (pos, step, len, lbl) => ({
    gridIndex: i, type: 'value', min: 0, max: M, interval: step, position: pos,
    axisLine: {show: false, onZero: false},
    splitLine: {show: false},
    axisTick: {show: true, inside: true, length: len, lineStyle: {color: '#000', width: 1}},
    axisLabel: lbl ? {show: true, formatter: fmt, fontFamily: FONT, fontSize: 15, fontWeight: 'bold', color: '#000',
      margin: lbl, showMinLabel: true, showMaxLabel: true, hideOverlap: false} : {show: false}
  });
  xAxis.push(mk('bottom', I, 6, 9), mk('bottom', mI, 3, 0), mk('top', I, 6, 0), mk('top', mI, 3, 0));
  yAxis.push(mk('left', I, 6, 6), mk('left', mI, 3, 0), mk('right', I, 6, 0), mk('right', mI, 3, 0));
  const ax = 4 * i;

  series.push({type: 'line', xAxisIndex: ax, yAxisIndex: ax, data: [[0, 0], [M, M]], showSymbol: false, silent: true,
    lineStyle: {color: '#000', width: 1, type: [3, 3]}, z: 1});

  SYMS.forEach(s => {
    const data = pts.filter(p => p[3] === s.key).map(p => ({value: [p[0], p[1]], itemStyle: {color: COLORS[p[2]], opacity: 1}}));
    series.push({type: 'scatter', xAxisIndex: ax, yAxisIndex: ax, data, symbol: s.symbol, symbolSize: s.size,
      symbolRotate: s.rot, silent: true, clip: true, z: 2, itemStyle: {opacity: 1}});
  });

  const txt = (x, y, text, size, align, extra) => Object.assign({
    type: 'text', x, y, silent: true, z: 10,
    style: {text, font: size + 'px ' + FONT, fill: '#000', textAlign: align, align, textVerticalAlign: 'middle', verticalAlign: 'middle'}
  }, extra || {});

  graphic.push(txt(L + W / 2, T - 17, chartTitle, 20, 'center'));
  graphic.push(txt(L + W / 2, T + 272, xTitle, 17, 'center'));
  graphic.push(txt(L - 48, T + H / 2, panelNames[i], 17, 'center', {rotation: Math.PI / 2}));
  statLabels.forEach((lab, j) => {
    const yt = T + 11.5 + 14.2 * j;
    graphic.push(txt(L + 9, yt, lab, 13.5, 'left'));
    graphic.push(txt(L + 91, yt, statsTop[i][j], 13.5, 'right'));
    const yb = T + 170.5 + 14.3 * j;
    graphic.push(txt(L + 145, yb, lab, 13.5, 'left'));
    graphic.push(txt(L + 229, yb, statsBottom[i][j], 13.5, 'right'));
  });
});

const chart = echarts.init(document.getElementById('c'), null, {renderer: 'canvas'});
chart.setOption({animation: false, backgroundColor: '#fff', grid, xAxis, yAxis, series, graphic});
</script>
</body></html>
